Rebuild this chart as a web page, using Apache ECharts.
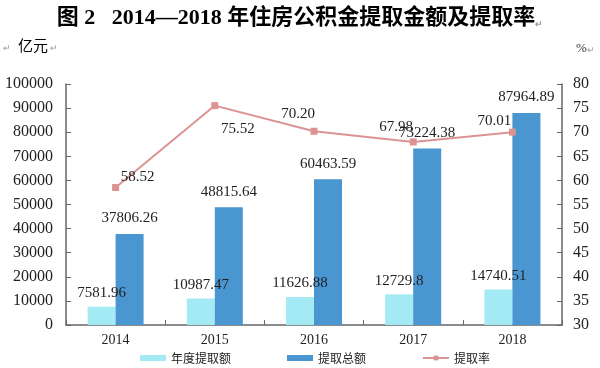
<!DOCTYPE html>
<html><head><meta charset="utf-8">
<script src="https://cdn.jsdelivr.net/npm/echarts@6/dist/echarts.min.js"></script>
<style>html,body{margin:0;padding:0;background:#fff}#c{width:600px;height:368px}</style>
</head><body><div id="c"></div>
<script>
const years = ['2014','2015','2016','2017','2018'];
const annualWithdrawal = [7581.96, 10987.47, 11626.88, 12729.8, 14740.51];
const totalWithdrawal = [37806.26, 48815.64, 60463.59, 73224.38, 87964.89];
const withdrawalRate = [58.52, 75.52, 70.20, 67.98, 70.01];
const leftTicks = ['0','10000','20000','30000','40000','50000','60000','70000','80000','90000','100000'];
const rightTicks = ['30','35','40','45','50','55','60','65','70','75','80'];
// label offsets (style only) for the rate line labels
const rateLabelOffsets = [[22,-10],[23,23],[-16,-17],[-17,-15],[-18,-11]];

const serif = '"Liberation Serif","Noto Sans CJK SC",serif';
const cjk = '"Noto Sans CJK SC",sans-serif';
const chart = echarts.init(document.getElementById('c'));
chart.setOption({
  animation: false,
  backgroundColor: '#fff',
  title: {
    text: '{a|图 2   2014—2018 年住房公积金提取金额及提取率}{m|↵}',
    left: 'center', top: 2,
    textStyle: { rich: {
      a: { fontFamily: '"Liberation Serif","Noto Sans CJK SC",serif', fontWeight: 'bold', fontSize: 22, color: '#000' },
      m: { fontSize: 9, color: '#999', verticalAlign: 'bottom', padding: [8,0,0,0] }
    }}
  },
  graphic: [
    { type: 'text', left: 3, top: 44, style: { text: '↵', fontSize: 9, fill: '#999' } },
    { type: 'text', left: 18, top: 38, style: { text: '亿元', fontSize: 15, fontFamily: cjk, fill: '#000' } },
    { type: 'text', left: 50, top: 44, style: { text: '↵', fontSize: 9, fill: '#999' } },
    { type: 'text', left: 576, top: 42, style: { text: '%', fontSize: 13, fontFamily: serif, fill: '#333' } },
    { type: 'text', left: 587, top: 46, style: { text: '↵', fontSize: 9, fill: '#999' } }
  ],
  legend: {
    left: 135, top: 347, itemGap: 56, itemWidth: 26, itemHeight: 6,
    textStyle: { fontFamily: cjk, fontSize: 12, color: '#222' },
    data: [
      { name: '年度提取额', icon: 'rect' },
      { name: '提取总额', icon: 'rect' },
      { name: '提取率' }
    ]
  },
  grid: { left: 66, right: 38, top: 84, bottom: 43 },
  xAxis: {
    type: 'category', data: years,
    axisLine: { lineStyle: { color: '#666', width: 1.5 } },
    axisTick: { show: true, inside: true, alignWithLabel: false, length: 5, lineStyle: { color: '#666' } },
    axisLabel: { fontFamily: serif, fontSize: 14, color: '#222', margin: 8 }
  },
  yAxis: [
    {
      type: 'value', min: 0, max: 100000, interval: 10000,
      axisLine: { show: true, lineStyle: { color: '#666', width: 1.5 } },
      axisTick: { show: true, inside: true, length: 5, lineStyle: { color: '#666' } },
      splitLine: { show: false },
      axisLabel: { fontFamily: serif, fontSize: 16, color: '#222', margin: 13,
        formatter: (v) => leftTicks[Math.round(v / 10000)] }
    },
    {
      type: 'value', min: 30, max: 80, interval: 5, position: 'right',
      axisLine: { show: true, lineStyle: { color: '#666', width: 1.5 } },
      axisTick: { show: true, inside: true, length: 5, lineStyle: { color: '#666' } },
      splitLine: { show: false },
      axisLabel: { fontFamily: serif, fontSize: 16, color: '#222', margin: 11,
        formatter: (v) => rightTicks[Math.round((v - 30) / 5)] }
    }
  ],
  series: [
    {
      name: '年度提取额', type: 'bar', data: annualWithdrawal, barWidth: 28, barGap: '0%',
      itemStyle: { color: '#a3eaf4' },
      label: { show: true, position: 'top', distance: 6, fontFamily: serif, fontSize: 15, color: '#222' }
    },
    {
      name: '提取总额', type: 'bar', data: totalWithdrawal, barWidth: 28,
      itemStyle: { color: '#4a96d1' },
      label: { show: true, position: 'top', distance: 8, fontFamily: serif, fontSize: 15, color: '#222' }
    },
    {
      name: '提取率', type: 'line', yAxisIndex: 1, z: 5,
      data: withdrawalRate.map((v, i) => ({ value: v, label: { offset: rateLabelOffsets[i] } })),
      symbol: 'rect', symbolSize: 7,
      lineStyle: { color: '#dc9393', width: 2 },
      itemStyle: { color: '#dc9393' },
      label: { show: true, position: 'inside', fontFamily: serif, fontSize: 15, color: '#222',
        formatter: (p) => p.value.toFixed(2) }
    }
  ]
});
</script></body></html>
